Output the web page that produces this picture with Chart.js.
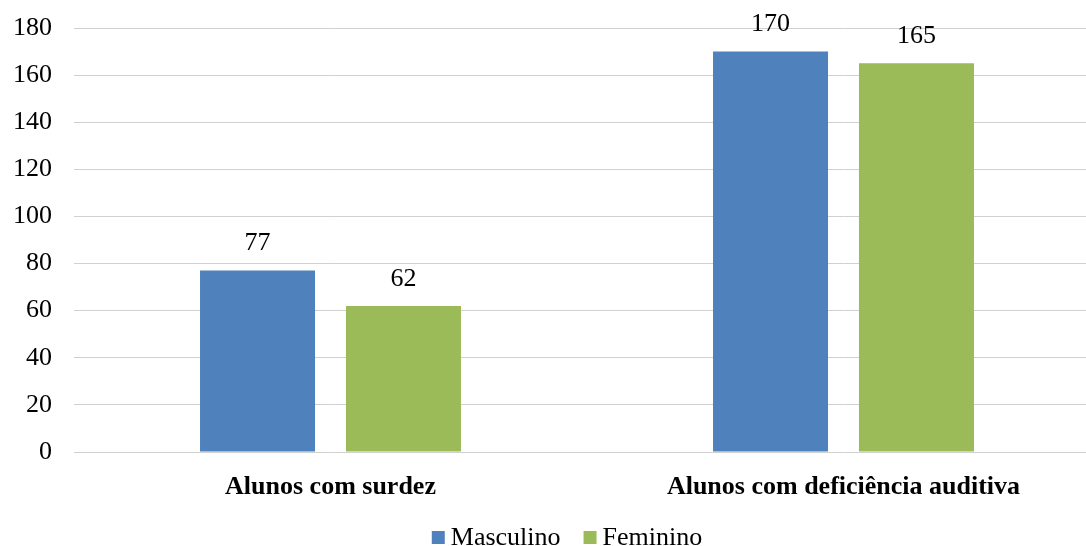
<!DOCTYPE html>
<html>
<head>
<meta charset="utf-8">
<script src="https://cdn.jsdelivr.net/npm/chart.js@4"></script>
<style>
  html, body { margin: 0; padding: 0; background: #fff; overflow: hidden; }
  #wrap { width: 1100px; height: 546px; position: relative; }
</style>
</head>
<body>
<div id="wrap"><canvas id="c"></canvas></div>
<script>
const categories = ['Alunos com surdez', 'Alunos com deficiência auditiva'];
const masculino = [77, 170];
const feminino = [62, 165];
const seriesNames = ['Masculino', 'Feminino'];
const yTicks = [0, 20, 40, 60, 80, 100, 120, 140, 160, 180];

const FONT = "'Liberation Serif', 'Times New Roman', serif";

// Writes each bar's value just above its top edge
const valueLabels = {
  id: 'valueLabels',
  afterDatasetsDraw(chart) {
    const ctx = chart.ctx;
    ctx.save();
    ctx.font = '26px ' + FONT;
    ctx.fillStyle = '#000';
    ctx.textAlign = 'center';
    ctx.textBaseline = 'middle';
    chart.data.datasets.forEach((ds, i) => {
      const meta = chart.getDatasetMeta(i);
      meta.data.forEach((bar, j) => {
        ctx.fillText(String(ds.data[j]), bar.x, bar.y - 27);
      });
    });
    ctx.restore();
  }
};

// Compact legend row under the category labels: small square, tight gap, label
const compactLegend = {
  id: 'compactLegend',
  afterDraw(chart) {
    const ctx = chart.ctx;
    const box = 13, gap = 6, itemGap = 23, cy = 537.5, centerX = 567;
    ctx.save();
    ctx.font = '26px ' + FONT;
    ctx.textBaseline = 'middle';
    ctx.textAlign = 'left';
    const items = chart.data.datasets.map(ds => ({
      text: ds.label, color: ds.backgroundColor, w: ctx.measureText(ds.label).width
    }));
    const total = items.reduce((a, it) => a + box + gap + it.w, 0) + itemGap * (items.length - 1);
    let x = centerX - total / 2;
    items.forEach(it => {
      ctx.fillStyle = it.color;
      ctx.fillRect(x, cy - box / 2, box, box);
      ctx.fillStyle = '#000';
      ctx.fillText(it.text, x + box + gap, cy + 1);
      x += box + gap + it.w + itemGap;
    });
    ctx.restore();
  }
};

new Chart(document.getElementById('c'), {
  type: 'bar',
  data: {
    labels: categories,
    datasets: [
      { label: seriesNames[0], data: masculino, backgroundColor: '#4F81BD' },
      { label: seriesNames[1], data: feminino, backgroundColor: '#9BBB59' }
    ]
  },
  options: {
    responsive: true,
    maintainAspectRatio: false,
    animation: false,
    layout: { padding: { top: 28, left: 0, right: 0, bottom: 31 } },
    datasets: { bar: { categoryPercentage: 0.569, barPercentage: 0.788 } },
    scales: {
      x: {
        grid: { display: false },
        border: { display: false },
        afterFit(s) { s.height = 63; },
        ticks: { color: '#000', font: { family: FONT, size: 26, weight: 'bold' }, padding: 12 },
      },
      y: {
        min: 0, max: 180,
        afterBuildTicks(s) { s.ticks = yTicks.map(v => ({ value: v })); },
        afterFit(s) { s.width = 74; s.paddingTop = 0; s.paddingBottom = 0; },
        grid: { color: '#d0d0d0', drawTicks: false, lineWidth: 1 },
        border: { display: false },
        ticks: { color: '#000', font: { family: FONT, size: 26 }, padding: 22 }
      }
    },
    plugins: {
      tooltip: { enabled: false },
      legend: { display: false }
    }
  },
  plugins: [valueLabels, compactLegend]
});
</script>
</body>
</html>
